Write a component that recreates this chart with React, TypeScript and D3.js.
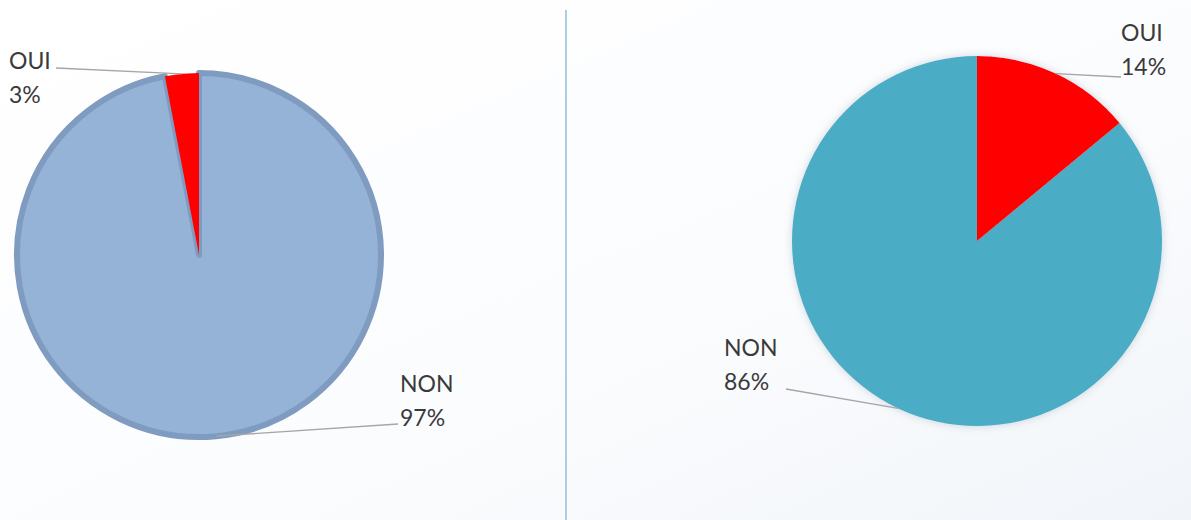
import { useRef, useEffect } from 'react';
import * as d3 from 'd3';

// Pie data
const categories = ["OUI", "NON"];
const leftValues = [3, 97];
const rightValues = [14, 86];

const W = 1191;
const H = 520;

export default function App() {
  const ref = useRef<SVGSVGElement>(null);

  useEffect(() => {
    document.body.style.margin = '0';
    const svg = d3.select(ref.current);
    svg.selectAll("*").remove();

    const defs = svg.append("defs");
    const bg = defs.append("linearGradient").attr("id", "bg")
      .attr("x1", "0").attr("y1", "0").attr("x2", "1").attr("y2", "1");
    bg.append("stop").attr("offset", "0%").attr("stop-color", "#ffffff");
    bg.append("stop").attr("offset", "60%").attr("stop-color", "#fbfcfe");
    bg.append("stop").attr("offset", "100%").attr("stop-color", "#f1f5f9");

    const glow = defs.append("filter").attr("id", "glow")
      .attr("x", "-20%").attr("y", "-20%").attr("width", "140%").attr("height", "140%");
    glow.append("feGaussianBlur").attr("in", "SourceAlpha").attr("stdDeviation", 4).attr("result", "b");
    glow.append("feFlood").attr("flood-color", "#7a8fa0").attr("flood-opacity", 0.35);
    glow.append("feComposite").attr("in2", "b").attr("operator", "in").attr("result", "s");
    const m = glow.append("feMerge");
    m.append("feMergeNode").attr("in", "s");
    m.append("feMergeNode").attr("in", "SourceGraphic");

    svg.append("rect").attr("width", W).attr("height", H).attr("fill", "url(#bg)");

    // divider
    svg.append("line")
      .attr("x1", 566).attr("x2", 566).attr("y1", 10).attr("y2", H)
      .attr("stroke", "#a9cfe0").attr("stroke-width", 2);

    const font = "Lato, 'Open Sans', sans-serif";

    type Lbl = { dx: number; dy: number; anchor: string; lineTo: [number, number] };

    function drawPie(
      cx: number, cy: number, r: number, values: number[], dir: number,
      colors: string[], strokes: (string | null)[], labels: Lbl[], shadow: boolean
    ) {
      const data = categories.map((c, i) => ({ name: c, value: values[i] }));
      const pie = d3.pie<{ name: string; value: number }>()
        .sort(null).value(d => d.value)
        .startAngle(0).endAngle(dir * 2 * Math.PI);
      const arcs = pie(data);
      const arc = d3.arc<d3.PieArcDatum<{ name: string; value: number }>>()
        .innerRadius(0).outerRadius(r);
      const g = svg.append("g").attr("transform", `translate(${cx},${cy})`);
      if (shadow) g.attr("filter", "url(#glow)");
      // draw NON first then OUI on top
      [1, 0].forEach(i => {
        const p = g.append("path").attr("d", arc(arcs[i])!).attr("fill", colors[i]);
        if (strokes[i]) p.attr("stroke", strokes[i]!).attr("stroke-width", 6).attr("stroke-linejoin", "round");
      });

      arcs.forEach((a, i) => {
        const mid = (a.startAngle + a.endAngle) / 2;
        const sx = cx + r * Math.sin(mid);
        const sy = cy - r * Math.cos(mid);
        const L = labels[i];
        svg.append("line")
          .attr("x1", sx).attr("y1", sy)
          .attr("x2", L.lineTo[0]).attr("y2", L.lineTo[1])
          .attr("stroke", "#a6a6a6").attr("stroke-width", 1.3);
        const t = svg.append("text")
          .attr("x", L.dx).attr("y", L.dy)
          .attr("text-anchor", L.anchor)
          .attr("font-family", font).attr("font-size", 23)
          .attr("fill", "#3a3a3a");
        t.append("tspan").attr("x", L.dx).text(a.data.name);
        t.append("tspan").attr("x", L.dx).attr("dy", 34).text(`${a.data.value}%`);
      });
    }

    drawPie(199, 255, 182, leftValues, -1,
      ["#ff0000", "#95b3d7"], [null, "#7f9cc0"],
      [
        { dx: 9, dy: 69, anchor: "start", lineTo: [56, 68] },
        { dx: 400, dy: 392, anchor: "start", lineTo: [398, 424] },
      ], false);

    drawPie(977, 241, 185, rightValues, 1,
      ["#ff0000", "#4bacc6"], [null, null],
      [
        { dx: 1121, dy: 41, anchor: "start", lineTo: [1121, 77] },
        { dx: 724, dy: 356, anchor: "start", lineTo: [786, 389] },
      ], true);
  }, []);

  return <svg ref={ref} width={W} height={H} style={{ display: 'block' }} />;
}
